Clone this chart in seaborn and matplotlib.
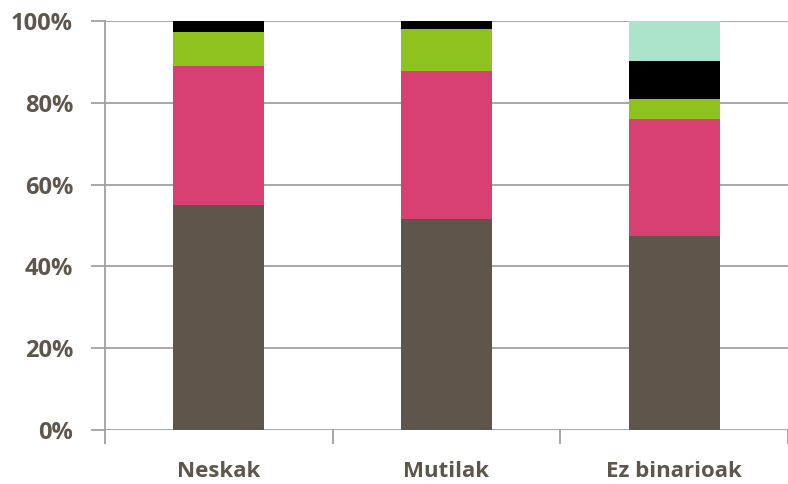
import pandas as pd
import matplotlib.pyplot as plt
import seaborn as sns
import numpy as np

# Categories and stacked shares (percent)
categories = ['Neskak', 'Mutilak', 'Ez binarioak']
brown_vals = [55.0, 51.6, 47.4]
pink_vals = [34.0, 36.2, 28.7]
green_vals = [8.2, 10.3, 4.8]
black_vals = [2.8, 1.9, 9.4]
mint_vals = [0.0, 0.0, 9.7]

series = [brown_vals, pink_vals, green_vals, black_vals, mint_vals]
colors = ['#5f564b', '#d83f72', '#8dc21f', '#000000', '#abe3cb']
y_ticks = [0, 20, 40, 60, 80, 100]
y_labels = ['0%', '20%', '40%', '60%', '80%', '100%']

text_color = '#5f564b'
grid_color = '#a0a0a0'

sns.set_style('white')
plt.rcParams['font.family'] = ['Open Sans', 'DejaVu Sans']

fig = plt.figure(figsize=(7.88, 4.84), dpi=100)
ax = fig.add_axes([0.1332, 0.1116, 0.8668, 0.845])

# Stacked bars
bottom = np.zeros(len(categories))
for vals, col in zip(series, colors):
    df = pd.DataFrame({'cat': categories, 'val': vals})
    sns.barplot(data=df, x='cat', y='val', color=col, width=0.4,
                bottom=bottom, ax=ax, saturation=1, linewidth=0)
    bottom = bottom + np.array(vals)

ax.set_xlim(-0.5, 2.5)
ax.set_ylim(0, 100)
ax.set_xlabel('')
ax.set_ylabel('')

for y in y_ticks:
    ax.axhline(y, color=grid_color, linewidth=1.3, zorder=0)

ax.set_yticks(y_ticks)
ax.set_yticklabels(y_labels, fontsize=17, fontweight='bold', color=text_color)
ax.tick_params(axis='y', which='major', length=10, width=1.3, color=grid_color,
               direction='out', pad=13, left=True)

ax.set_xticks([0, 1, 2])
ax.set_xticklabels(categories, fontsize=16, fontweight='bold', color=text_color)
ax.set_xticks([-0.5, 0.5, 1.5, 2.5], minor=True)
ax.tick_params(axis='x', which='major', length=0, pad=22)
ax.tick_params(axis='x', which='minor', length=10, width=1.3, color=grid_color,
               direction='out', bottom=True)

for side in ['top', 'right', 'bottom']:
    ax.spines[side].set_visible(False)
ax.spines['left'].set_color(grid_color)
ax.spines['left'].set_linewidth(1.3)

fig.savefig('out.png', dpi=100)
